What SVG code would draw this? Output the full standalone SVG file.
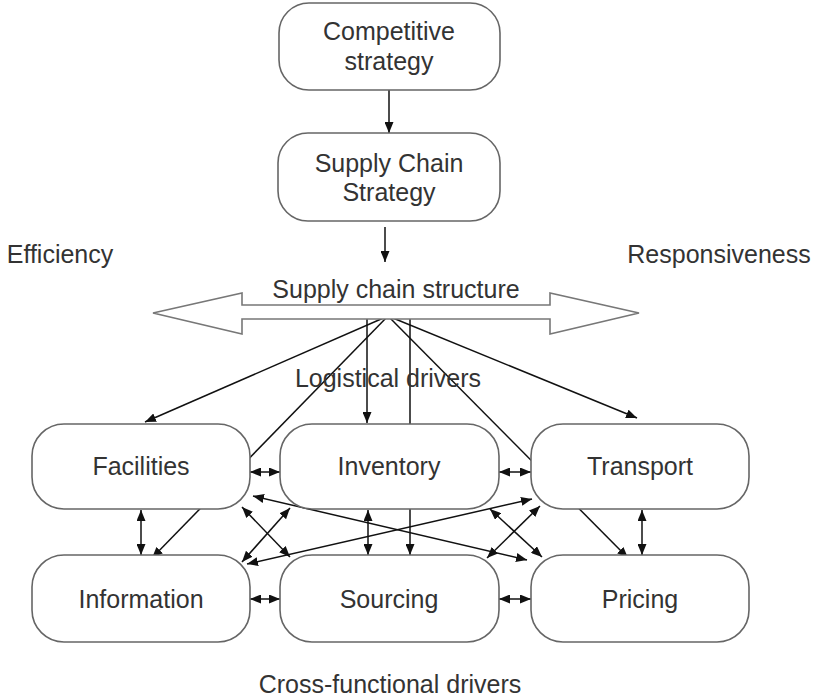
<svg xmlns="http://www.w3.org/2000/svg" width="817" height="700" viewBox="0 0 817 700">
  <style>
    .box { fill: #ffffff; stroke: #666666; stroke-width: 1.6; }
    .lbl { font-family: "Liberation Sans", Arial, sans-serif; font-size: 25px; fill: #333333; text-anchor: middle; }
    .ln { fill: none; stroke: #111111; stroke-width: 1.5; }
    .one { marker-end: url(#head); }
    .two { marker-start: url(#head); marker-end: url(#head); }
  </style>
  <defs>
    <marker id="head" markerUnits="userSpaceOnUse" markerWidth="12" markerHeight="9" refX="11" refY="4.5" orient="auto-start-reverse">
      <path d="M0,0 L11,4.5 L0,9 z" fill="#111111"/>
    </marker>
  </defs>

  <rect width="817" height="700" fill="#ffffff"/>

  <!-- connectors -->
  <g id="connectors">
    <line class="ln one" x1="389" y1="90" x2="389" y2="133"/>
    <line class="ln one" x1="385" y1="227" x2="385" y2="262"/>

    <!-- fan-out from the supply chain structure -->
    <line class="ln one" x1="388" y1="316" x2="145" y2="422"/>
    <line class="ln one" x1="388" y1="316" x2="152" y2="558"/>
    <line class="ln one" x1="367" y1="319" x2="367" y2="423"/>
    <line class="ln one" x1="410" y1="319" x2="410" y2="555"/>
    <line class="ln one" x1="388" y1="316" x2="628" y2="558"/>
    <line class="ln one" x1="388" y1="316" x2="637" y2="418"/>

    <!-- side-by-side links -->
    <line class="ln two" x1="250" y1="472" x2="280" y2="472"/>
    <line class="ln two" x1="499" y1="472" x2="531" y2="472"/>
    <line class="ln two" x1="250" y1="599" x2="280" y2="599"/>
    <line class="ln two" x1="499" y1="599" x2="531" y2="599"/>

    <!-- vertical links -->
    <line class="ln two" x1="141" y1="510" x2="141" y2="555"/>
    <line class="ln two" x1="368" y1="510" x2="368" y2="555"/>
    <line class="ln two" x1="642" y1="510" x2="642" y2="555"/>

    <!-- diagonal links -->
    <line class="ln two" x1="242" y1="507" x2="290" y2="557"/>
    <line class="ln two" x1="242" y1="562" x2="290" y2="508"/>
    <line class="ln two" x1="490" y1="509" x2="542" y2="557"/>
    <line class="ln two" x1="487" y1="558" x2="540" y2="506"/>
    <line class="ln two" x1="253" y1="496" x2="527" y2="560"/>
    <line class="ln two" x1="247" y1="564" x2="532" y2="499"/>
  </g>

  <!-- strategy nodes -->
  <g id="competitive-strategy">
    <rect class="box" x="279" y="3" width="221" height="87" rx="30"/>
    <text class="lbl" x="389" y="40">Competitive</text>
    <text class="lbl" x="389" y="70">strategy</text>
  </g>
  <g id="supply-chain-strategy">
    <rect class="box" x="278" y="133" width="222" height="88" rx="30"/>
    <text class="lbl" x="389" y="172">Supply Chain</text>
    <text class="lbl" x="389" y="201">Strategy</text>
  </g>

  <!-- spectrum arrow -->
  <g id="supply-chain-structure">
    <polygon points="153,313 242,293 242,305 550,305 550,293 639,313 550,334 550,319 242,319 242,334" fill="#ffffff" stroke="#777777" stroke-width="1.6"/>
    <text class="lbl" x="396" y="298">Supply chain structure</text>
  </g>
  <text class="lbl" x="60" y="263">Efficiency</text>
  <text class="lbl" x="719" y="263">Responsiveness</text>
  <text class="lbl" x="388" y="387">Logistical drivers</text>

  <!-- drivers -->
  <g id="facilities">
    <rect class="box" x="32" y="424" width="218" height="85" rx="32"/>
    <text class="lbl" x="141" y="475">Facilities</text>
  </g>
  <g id="inventory">
    <rect class="box" x="280" y="424" width="219" height="85" rx="32"/>
    <text class="lbl" x="389" y="475">Inventory</text>
  </g>
  <g id="transport">
    <rect class="box" x="531" y="424" width="218" height="85" rx="32"/>
    <text class="lbl" x="640" y="475">Transport</text>
  </g>
  <g id="information">
    <rect class="box" x="32" y="555" width="218" height="87" rx="32"/>
    <text class="lbl" x="141" y="608">Information</text>
  </g>
  <g id="sourcing">
    <rect class="box" x="280" y="555" width="219" height="87" rx="32"/>
    <text class="lbl" x="389" y="608">Sourcing</text>
  </g>
  <g id="pricing">
    <rect class="box" x="531" y="555" width="218" height="87" rx="32"/>
    <text class="lbl" x="640" y="608">Pricing</text>
  </g>

  <text class="lbl" x="390" y="693">Cross-functional drivers</text>
</svg>
